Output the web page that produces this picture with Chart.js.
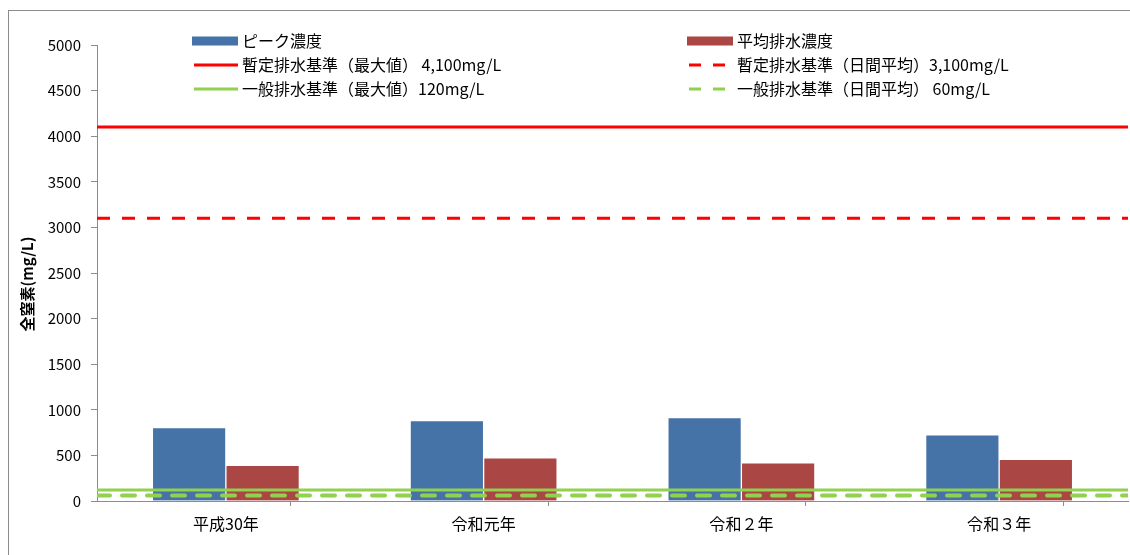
<!DOCTYPE html>
<html>
<head>
<meta charset="utf-8">
<script src="https://cdn.jsdelivr.net/npm/chart.js@4.4.0/dist/chart.umd.min.js"></script>
<style>
  html, body { margin:0; padding:0; background:#fff; }
  #wrap { width:1130px; height:555px; position:relative; }
</style>
</head>
<body>
<div id="wrap"><canvas id="chart" width="1130" height="555"></canvas></div>
<script>
//Data
var categories = ['平成30年', '令和元年', '令和２年', '令和３年'];
var peakValues = [805, 882, 915, 725];
var avgValues = [392, 473, 418, 458];
var yTicks = [0, 500, 1000, 1500, 2000, 2500, 3000, 3500, 4000, 4500, 5000];

//Standard lines
var limitNames = ['暫定排水基準（最大値） 4,100mg/L', '暫定排水基準（日間平均）3,100mg/L',
                  '一般排水基準（最大値）120mg/L', '一般排水基準（日間平均） 60mg/L'];
var limitValues = [4100, 3100, 120, 60];

var FONT = '"Noto Sans CJK JP", "Noto Sans", sans-serif';

//x is a linear axis: category i sits at x=i, edges at -0.5 and n-0.5
var xMin = -0.5;
var xMax = categories.length - 0.5;

function toPoints(values){
  return values.map(function(v, i){ return {x:i, y:v}; });
}

function flatLine(v){
  return [{x:xMin, y:v}, {x:xMax, y:v}];
}

//x ticks: category centres (labels) and category edges (tick marks)
function xTickValues(){
  var t = [];
  for(var i = 0; i <= categories.length * 2; i++){
    t.push(xMin + i * 0.5);
  }
  return t;
}

//Draw frame, y title and the two-column legend
var extras = {
  id: 'extras',
  beforeDraw: function(chart){
    var ctx = chart.ctx;
    ctx.save();
    ctx.fillStyle = '#fff';
    ctx.fillRect(0, 0, chart.width, chart.height);
    ctx.strokeStyle = '#8c8c8c';
    ctx.lineWidth = 1;
    ctx.strokeRect(8.5, 10.5, 1300, 700);
    ctx.restore();
  },
  afterDraw: function(chart){
    var ctx = chart.ctx;
    ctx.save();
    //y title
    ctx.translate(27, 284);
    ctx.rotate(-Math.PI/2);
    ctx.font = 'bold 15px ' + FONT;
    ctx.fillStyle = '#000';
    ctx.textAlign = 'center';
    ctx.textBaseline = 'middle';
    ctx.fillText('全窒素(mg/L)', 0, 0);
    ctx.restore();

    //legend
    var items = chart.data.datasets;
    var cols = [192, 687];
    var rows = [41, 65, 89];
    ctx.save();
    ctx.font = '16px ' + FONT;
    ctx.textBaseline = 'middle';
    ctx.textAlign = 'left';
    for(var i = 0; i < items.length; i++){
      var ds = items[i];
      var x = cols[i % 2];
      var y = rows[Math.floor(i / 2)];
      if(ds.type === 'line'){
        ctx.strokeStyle = ds.borderColor;
        ctx.lineWidth = 3;
        ctx.setLineDash(ds.borderDash ? [12, 12] : []);
        ctx.beginPath();
        ctx.moveTo(x + 2, y);
        ctx.lineTo(x + 46, y);
        ctx.stroke();
        ctx.setLineDash([]);
      } else {
        ctx.fillStyle = ds.backgroundColor;
        ctx.fillRect(x, y - 4.5, 46, 9);
      }
      ctx.fillStyle = '#000';
      ctx.fillText(ds.label, x + 50, y);
    }
    ctx.restore();
  }
};

var ctx = document.getElementById('chart').getContext('2d');
var myChart = new Chart(ctx, {
  type: 'bar',
  data: {
    datasets: [
      {label:'ピーク濃度', data:toPoints(peakValues), backgroundColor:'#4572A7', borderColor:'rgba(255,255,255,0.35)', borderWidth:1, order:2},
      {label:'平均排水濃度', data:toPoints(avgValues), backgroundColor:'#AA4643', borderColor:'rgba(255,255,255,0.35)', borderWidth:1, order:2},
      {type:'line', label:limitNames[0], data:flatLine(limitValues[0]), borderColor:'#FF0000', borderWidth:3, pointRadius:0, order:1},
      {type:'line', label:limitNames[1], data:flatLine(limitValues[1]), borderColor:'#FF0000', borderWidth:3, borderDash:[13,12], pointRadius:0, order:1},
      {type:'line', label:limitNames[2], data:flatLine(limitValues[2]), borderColor:'#92D050', borderWidth:3, pointRadius:0, order:1},
      {type:'line', label:limitNames[3], data:flatLine(limitValues[3]), borderColor:'#92D050', borderWidth:4, borderDash:[13,12], borderCapStyle:'round', pointRadius:0, order:1}
    ]
  },
  options: {
    responsive: false,
    animation: false,
    layout: { padding: { top:45, right:2, left:0, bottom:0 } },
    plugins: { legend: { display:false }, tooltip: { enabled:false } },
    datasets: { bar: { barThickness:73.5 } },
    scales: {
      x: {
        type: 'linear',
        min: xMin,
        max: xMax,
        offset: false,
        afterBuildTicks: function(scale){
          scale.ticks = xTickValues().map(function(v){ return {value:v}; });
        },
        grid: {
          drawOnChartArea:false, tickLength:5,
          color: function(c){ return (c.tick && Number.isInteger(c.tick.value)) ? 'rgba(0,0,0,0)' : '#8c8c8c'; }
        },
        border: { color:'#8c8c8c' },
        ticks: {
          color:'#000', font:{ family:FONT, size:16 }, padding:8, autoSkip:false, maxRotation:0,
          callback: function(v){ return Number.isInteger(v) ? categories[v] : ''; }
        },
        afterFit: function(scale){
          scale.height = 54;
          scale.paddingLeft = 0;
          scale.paddingRight = 0;
        }
      },
      y: {
        min: 0,
        max: 5000,
        afterBuildTicks: function(scale){
          scale.ticks = yTicks.map(function(v){ return {value:v}; });
        },
        grid: { drawOnChartArea:false, tickLength:6, color:'#8c8c8c' },
        border: { color:'#8c8c8c' },
        ticks: { color:'#000', font:{ family:FONT, size:15 }, padding:10,
          callback: function(v){ return String(v); } },
        afterFit: function(scale){ scale.width = 97; }
      }
    }
  },
  plugins: [extras]
});
</script>
</body>
</html>
